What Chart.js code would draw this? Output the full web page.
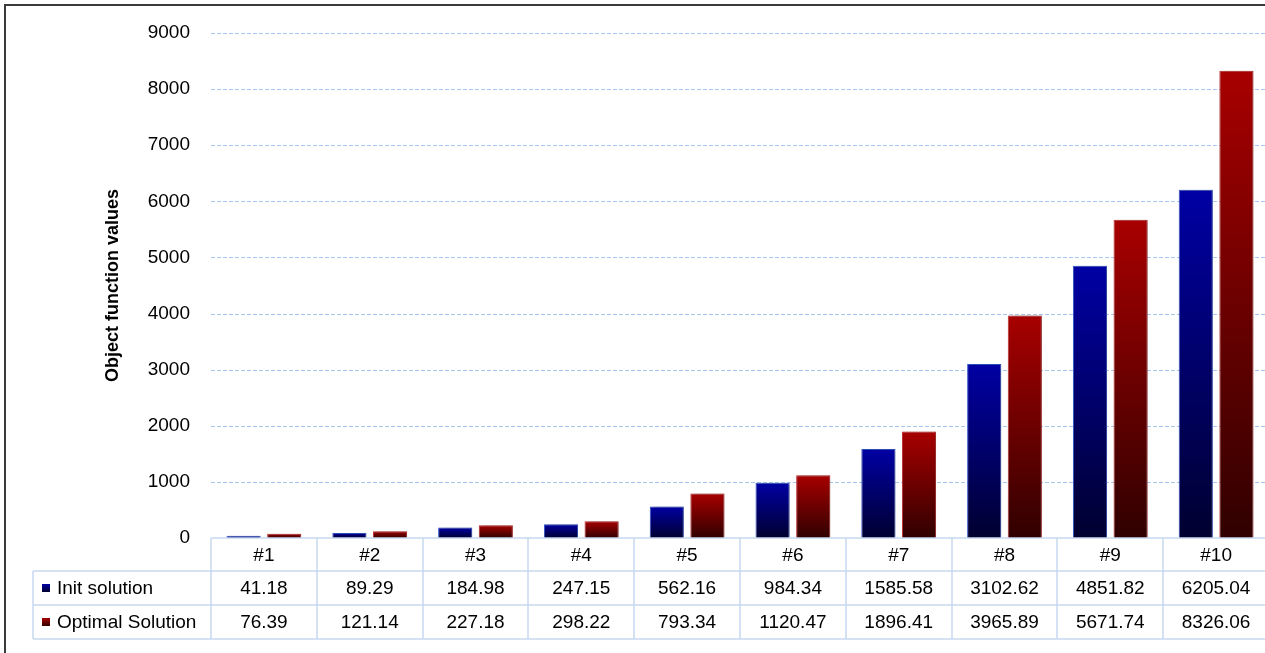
<!DOCTYPE html>
<html>
<head>
<meta charset="utf-8">
<script src="https://cdn.jsdelivr.net/npm/chart.js@4.4.0/dist/chart.umd.min.js"></script>
<style>
    html, body { margin: 0; padding: 0; background: #fff; overflow: hidden; }
    #frame { position: absolute; left: 4px; top: 4px; width: 1300px; height: 700px; border: 2px solid #3a3a3a; }
    #wrap { position: absolute; left: 0; top: 0; width: 1270px; height: 653px; }
</style>
</head>
<body>
<div id="frame"></div>
<div id="wrap"><canvas id="chart"></canvas></div>
<script>
const categories = ['#1', '#2', '#3', '#4', '#5', '#6', '#7', '#8', '#9', '#10'];
const initSolution = [41.18, 89.29, 184.98, 247.15, 562.16, 984.34, 1585.58, 3102.62, 4851.82, 6205.04];
const optimalSolution = [76.39, 121.14, 227.18, 298.22, 793.34, 1120.47, 1896.41, 3965.89, 5671.74, 8326.06];
const seriesNames = ['Init solution', 'Optimal Solution'];

const FONT = '"Liberation Sans", Arial, sans-serif';
const GRID = '#a9c6ee';
const COLORS = [
    { top: '#0000a4', bottom: '#000030', edge: '#3355cc' },
    { top: '#a80000', bottom: '#300000', edge: '#c03030' }
];

// gradient per bar, from its top down to zero
function barGradient(c) {
    return ctx => {
        const chart = ctx.chart;
        if (!chart.chartArea || ctx.type !== 'data') return c.top;
        const y = chart.scales.y;
        const y0 = y.getPixelForValue(0);
        const y1 = y.getPixelForValue(ctx.raw);
        if (y0 - y1 < 1) return c.top;
        const g = chart.ctx.createLinearGradient(0, y1, 0, y0);
        g.addColorStop(0, c.top);
        g.addColorStop(1, c.bottom);
        return g;
    };
}

// dashed light blue grid, one line per y tick
const gridPlugin = {
    id: 'blueGrid',
    beforeDatasetsDraw(chart) {
        const ctx = chart.ctx;
        const y = chart.scales.y;
        const area = chart.chartArea;
        ctx.save();
        ctx.strokeStyle = GRID;
        ctx.lineWidth = 1;
        ctx.setLineDash([4, 2]);
        y.ticks.forEach(t => {
            if (t.value === 0) return;
            const py = Math.round(y.getPixelForValue(t.value)) + 0.5;
            ctx.beginPath();
            ctx.moveTo(area.left, py);
            ctx.lineTo(area.right, py);
            ctx.stroke();
        });
        ctx.restore();
    }
};

const shadowPlugin = {
    id: 'barShadow',
    beforeDatasetsDraw(chart) {
        const ctx = chart.ctx;
        ctx.save();
        ctx.shadowColor = 'rgba(0,0,0,0.3)';
        ctx.shadowBlur = 4;
        ctx.shadowOffsetX = 2;
        ctx.shadowOffsetY = 0;
    },
    afterDatasetsDraw(chart) {
        chart.ctx.restore();
    }
};

// data table under the plot
const tablePlugin = {
    id: 'dataTable',
    afterDraw(chart) {
        const ctx = chart.ctx;
        const x = chart.scales.x;
        const area = chart.chartArea;
        const colW = x.width / categories.length;
        const rows = [area.bottom, area.bottom + 33, area.bottom + 67, area.bottom + 101];
        const legendLeft = 33;
        const rowValues = [initSolution, optimalSolution];

        ctx.save();
        ctx.strokeStyle = '#c6d9f1';
        ctx.lineWidth = 1.5;
        ctx.beginPath();
        ctx.moveTo(area.left, rows[0]);
        ctx.lineTo(area.right + 2, rows[0]);
        for (let r = 1; r < rows.length; r++) {
            ctx.moveTo(legendLeft, rows[r]);
            ctx.lineTo(area.right + 2, rows[r]);
        }
        ctx.moveTo(legendLeft, rows[1]);
        ctx.lineTo(legendLeft, rows[3]);
        for (let i = 0; i <= categories.length; i++) {
            const px = Math.round(x.getPixelForValue(0) - colW / 2 + i * colW);
            ctx.moveTo(px, rows[0]);
            ctx.lineTo(px, rows[3]);
        }
        ctx.stroke();

        ctx.fillStyle = '#000';
        ctx.font = '19px ' + FONT;
        ctx.textBaseline = 'middle';
        ctx.textAlign = 'center';
        categories.forEach((cat, i) => {
            const cx = x.getPixelForValue(i);
            ctx.fillText(cat, cx, (rows[0] + rows[1]) / 2 + 1);
            rowValues.forEach((vals, r) => {
                ctx.fillText(vals[i].toFixed(2), cx, (rows[r + 1] + rows[r + 2]) / 2 + 1);
            });
        });

        ctx.textAlign = 'left';
        seriesNames.forEach((name, r) => {
            const cy = (rows[r + 1] + rows[r + 2]) / 2;
            const g = ctx.createLinearGradient(0, cy - 4, 0, cy + 4);
            g.addColorStop(0, COLORS[r].top);
            g.addColorStop(1, COLORS[r].bottom);
            ctx.fillStyle = g;
            ctx.fillRect(42, cy - 4, 8, 8);
            ctx.fillStyle = '#000';
            ctx.fillText(name, 57, cy + 1);
        });
        ctx.restore();
    }
};

new Chart(document.getElementById('chart'), {
    type: 'bar',
    data: {
        labels: categories,
        datasets: [initSolution, optimalSolution].map((vals, i) => ({
            label: seriesNames[i],
            data: vals,
            backgroundColor: barGradient(COLORS[i]),
            borderColor: COLORS[i].edge,
            borderWidth: 1,
            categoryPercentage: 0.768,
            barPercentage: 0.84
        }))
    },
    options: {
        responsive: true,
        maintainAspectRatio: false,
        animation: false,
        layout: { padding: { left: 0, right: 1, top: 33, bottom: 115 } },
        plugins: {
            legend: { display: false },
            tooltip: { enabled: false }
        },
        scales: {
            x: { display: false },
            y: {
                min: 0,
                max: 9000,
                afterFit: scale => { scale.width = 211; },
                ticks: {
                    stepSize: 1000,
                    padding: 21,
                    color: '#000',
                    font: { family: FONT, size: 19 },
                    callback: v => String(v)
                },
                grid: { display: false, drawTicks: false },
                border: { display: false },
                title: {
                    display: true,
                    text: 'Object function values',
                    color: '#000',
                    font: { family: FONT, size: 18, weight: 'bold' },
                    padding: { top: 102, bottom: 0 }
                }
            }
        }
    },
    plugins: [gridPlugin, shadowPlugin, tablePlugin]
});
</script>
</body>
</html>
